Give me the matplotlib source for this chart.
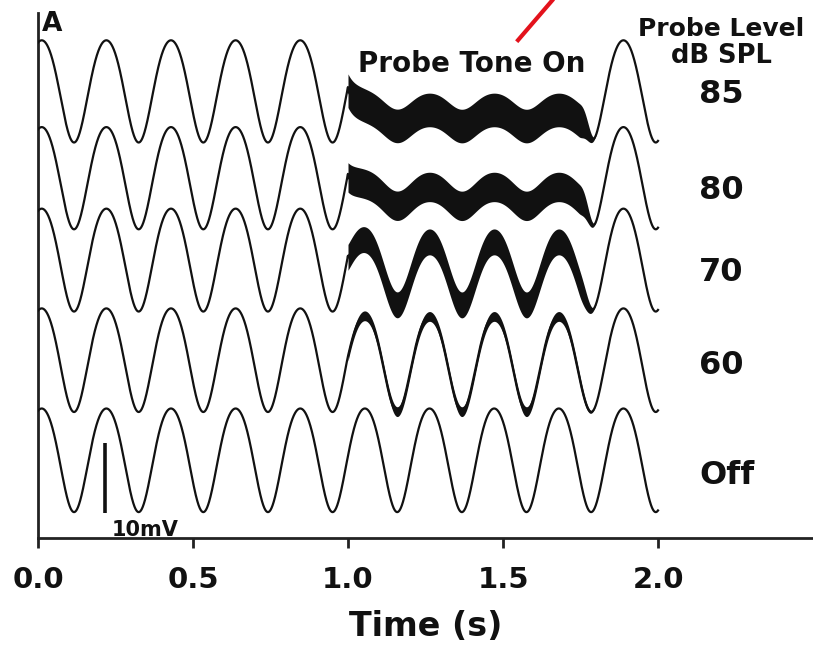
import numpy as np
import matplotlib
matplotlib.use('Agg')
import matplotlib.pyplot as plt
from matplotlib.lines import Line2D

# stimulus timing (s)
STIM_FREQ = 1 / 0.2085        # low-frequency bias tone, Hz
STIM_PEAK = 0.012             # time of first peak
PROBE_ON = 1.0
PROBE_RAMP = (1.745, 1.805)   # probe offset ramp
SHIFT_TAU = 0.03              # build-up of the DC shift
T_END = 2.0
HARM2 = 0.08                  # 2nd-harmonic distortion (broad peaks, sharp troughs)

# one trace per probe level (values in mV)
levels     = ['85', '80', '70', '60', 'Off']
baseline   = [63.8, 51.4, 39.7, 25.4, 11.1]
amp_off    = [7.3, 7.3, 7.35, 7.4, 7.4]    # response amplitude, probe off
amp_on     = [1.15, 1.35, 4.5, 6.8, 7.4]   # response amplitude, probe on
dc_shift   = [3.8, 2.6, 1.9, 0.55, 0.0]    # downward shift while probe on
band_half  = [2.4, 2.1, 1.85, 0.7, 0.0]    # half-width of probe ripple
label_y    = [63.3, 49.7, 37.9, 24.6, 9.0]

SCALE_BAR = (0.216, 3.6, 13.6)   # x, y0, y1

LINE = '#111111'
AXC = '#222222'

t = np.linspace(0, T_END, 20001)
phase = 2 * np.pi * STIM_FREQ * (t - STIM_PEAK)
shape = np.cos(phase) + 2 * HARM2 * np.sin(phase) ** 2

# probe envelope: abrupt onset, cosine ramp at offset
env = np.zeros_like(t)
env[(t >= PROBE_ON) & (t <= PROBE_RAMP[0])] = 1.0
ramp = (t > PROBE_RAMP[0]) & (t < PROBE_RAMP[1])
env[ramp] = 0.5 * (1 + np.cos(np.pi * (t[ramp] - PROBE_RAMP[0]) /
                              (PROBE_RAMP[1] - PROBE_RAMP[0])))
build = np.where(t >= PROBE_ON, 1 - np.exp(-(t - PROBE_ON) / SHIFT_TAU), 0.0)

fig = plt.figure(figsize=(8.13, 6.47), dpi=100)
ax = fig.add_axes([38 / 813, 109 / 647, 1 - 38 / 813, 525 / 647])
ax.set_xlim(0, 2.5)
ax.set_ylim(0, 75)

for c, a0, a1, sh, h in zip(baseline, amp_off, amp_on, dc_shift, band_half):
    amp = a0 - env * (a0 - a1)
    lf = c + amp * shape - sh * build * env
    if h > 0:
        on = env > 0
        ax.fill_between(t[on], lf[on] - h * env[on], lf[on] + h * env[on],
                        color=LINE, lw=0, zorder=2)
    ax.plot(t, lf, color=LINE, lw=1.6, solid_joinstyle='round', zorder=3)

# level labels
for lab, y in zip(levels, label_y):
    ax.text(2.132, y, lab, ha='left', va='center', fontsize=23,
            fontweight='bold', color='#111', clip_on=False)

ax.text(2.205, 71.7, 'Probe Level', ha='center', va='baseline', fontsize=18,
        fontweight='bold', color='#111')
ax.text(2.205, 67.9, 'dB SPL', ha='center', va='baseline', fontsize=18.5,
        fontweight='bold', color='#111')
ax.text(1.40, 66.6, 'Probe Tone On', ha='center', va='baseline',
        fontsize=20, fontweight='bold', color='#111')

# 10 mV scale bar
sx, sy0, sy1 = SCALE_BAR
ax.plot([sx, sx], [sy0, sy1], color=LINE, lw=2.6, solid_capstyle='butt',
        zorder=4)
ax.text(0.239, 0.3, '10mV', ha='left', va='baseline', fontsize=15,
        fontweight='bold', color='#111')

fig.text(42 / 813, 1 - 31 / 647, 'A', ha='left', va='baseline', fontsize=19,
         fontweight='bold', color='#111')

# red pointer entering from the top
fig.add_artist(Line2D([516.7 / 813, 556 / 813],
                      [1 - 41.7 / 647, 1 + 4 / 647],
                      transform=fig.transFigure, color='#e3121c', lw=3,
                      solid_capstyle='butt'))

for side in ('top', 'right'):
    ax.spines[side].set_visible(False)
for side in ('left', 'bottom'):
    ax.spines[side].set_linewidth(2)
    ax.spines[side].set_color(AXC)
ax.set_yticks([])
ax.set_xticks([0.0, 0.5, 1.0, 1.5, 2.0])
ax.set_xticklabels(['0.0', '0.5', '1.0', '1.5', '2.0'])
ax.tick_params(axis='x', direction='out', length=7, width=2, color=AXC,
               pad=13, labelsize=21)
for lab in ax.get_xticklabels():
    lab.set_fontweight('bold')
    lab.set_color('#111')

ax.set_xlabel('Time (s)', fontsize=24, fontweight='bold', color='#111')
ax.xaxis.label.set_va('baseline')
ax.xaxis.set_label_coords(0.5, (538 - 636) / 525)

fig.savefig('out.png', dpi=100, facecolor='white')
